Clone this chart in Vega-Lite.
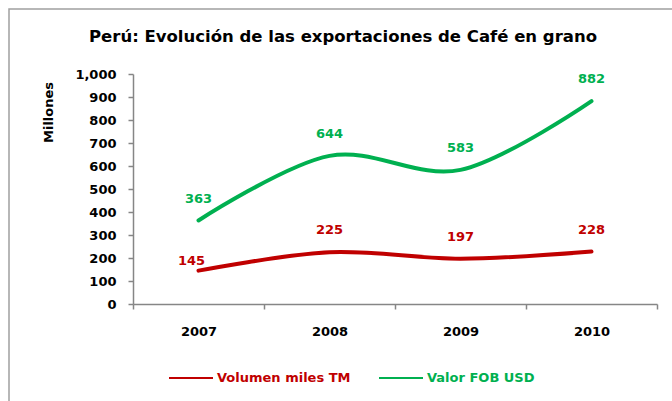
{
  "$schema": "https://vega.github.io/schema/vega-lite/v6.json",
  "width": 668,
  "height": 395,
  "autosize": {"type": "none"},
  "padding": {"left": 9, "top": 9, "right": 0, "bottom": 0},
  "background": "white",
  "config": {
    "view": {"stroke": "#A0A0A0", "strokeWidth": 1.5},
    "font": "DejaVu Sans"
  },
  "title": {
    "text": "Perú: Evolución de las exportaciones de Café en grano",
    "font": "DejaVu Sans",
    "fontSize": 16.5,
    "fontWeight": "bold",
    "color": "#000000",
    "anchor": "middle",
    "frame": "group",
    "offset": -36
  },
  "data": {
    "values": [
      {"year": "2007", "serie": "Volumen miles TM", "value": 145},
      {"year": "2008", "serie": "Volumen miles TM", "value": 225},
      {"year": "2009", "serie": "Volumen miles TM", "value": 197},
      {"year": "2010", "serie": "Volumen miles TM", "value": 228},
      {"year": "2007", "serie": "Valor FOB USD", "value": 363},
      {"year": "2008", "serie": "Valor FOB USD", "value": 644},
      {"year": "2009", "serie": "Valor FOB USD", "value": 583},
      {"year": "2010", "serie": "Valor FOB USD", "value": 882}
    ]
  },
  "encoding": {
    "x": {
      "field": "year",
      "type": "ordinal",
      "scale": {"type": "band", "range": [124, 648], "paddingInner": 0, "paddingOuter": 0},
      "axis": {
        "title": null,
        "orient": "bottom",
        "offset": -100,
        "labelAngle": 0,
        "tickBand": "extent",
        "tickSize": 5,
        "domainColor": "#868686",
        "tickColor": "#868686",
        "domainWidth": 1.5,
        "tickWidth": 1.5,
        "labelFont": "DejaVu Sans",
        "labelFontSize": 13,
        "labelFontWeight": "bold",
        "labelColor": "#000000",
        "labelPadding": 16
      }
    },
    "y": {
      "field": "value",
      "type": "quantitative",
      "scale": {"domain": [0, 1000], "range": [295, 65], "nice": false},
      "axis": {
        "title": "Millones",
        "orient": "left",
        "offset": -124,
        "values": [0, 100, 200, 300, 400, 500, 600, 700, 800, 900, 1000],
        "format": ",.0f",
        "grid": false,
        "tickSize": 5,
        "domainColor": "#868686",
        "tickColor": "#868686",
        "domainWidth": 1.5,
        "tickWidth": 1.5,
        "labelFont": "DejaVu Sans",
        "labelFontSize": 13,
        "labelFontWeight": "bold",
        "labelColor": "#000000",
        "labelPadding": 12,
        "titleFont": "DejaVu Sans",
        "titleFontSize": 13,
        "titleFontWeight": "bold",
        "titleColor": "#000000",
        "titleX": -85,
        "titleY": 103,
        "titleAngle": -90,
        "titleAlign": "center",
        "titleBaseline": "middle"
      }
    },
    "color": {
      "field": "serie",
      "type": "nominal",
      "scale": {"domain": ["Volumen miles TM", "Valor FOB USD"], "range": ["#C00000", "#00B050"]},
      "legend": {
        "title": null,
        "orient": "none",
        "legendX": 159,
        "legendY": 346,
        "direction": "horizontal",
        "symbolType": "stroke",
        "symbolSize": 1936,
        "symbolStrokeWidth": 2,
        "labelFont": "DejaVu Sans",
        "labelFontSize": 13,
        "labelFontWeight": "bold",
        "labelOffset": 3,
        "columnPadding": 24,
        "encode": {
          "labels": {"update": {"fill": {"scale": "color", "field": "value"}}}
        }
      }
    }
  },
  "layer": [
    {
      "mark": {"type": "line", "interpolate": "cardinal", "tension": 0, "strokeWidth": 4, "strokeCap": "round"}
    },
    {
      "transform": [{"filter": "!(datum.serie == 'Volumen miles TM' && datum.year == '2007')"}],
      "mark": {"type": "text", "dy": -22, "font": "DejaVu Sans", "fontSize": 13, "fontWeight": "bold", "baseline": "middle"},
      "encoding": {"text": {"field": "value", "type": "quantitative"}}
    },
    {
      "transform": [{"filter": "datum.serie == 'Volumen miles TM' && datum.year == '2007'"}],
      "mark": {"type": "text", "dy": -10, "dx": -7, "font": "DejaVu Sans", "fontSize": 13, "fontWeight": "bold", "baseline": "middle"},
      "encoding": {"text": {"field": "value", "type": "quantitative"}}
    }
  ]
}
